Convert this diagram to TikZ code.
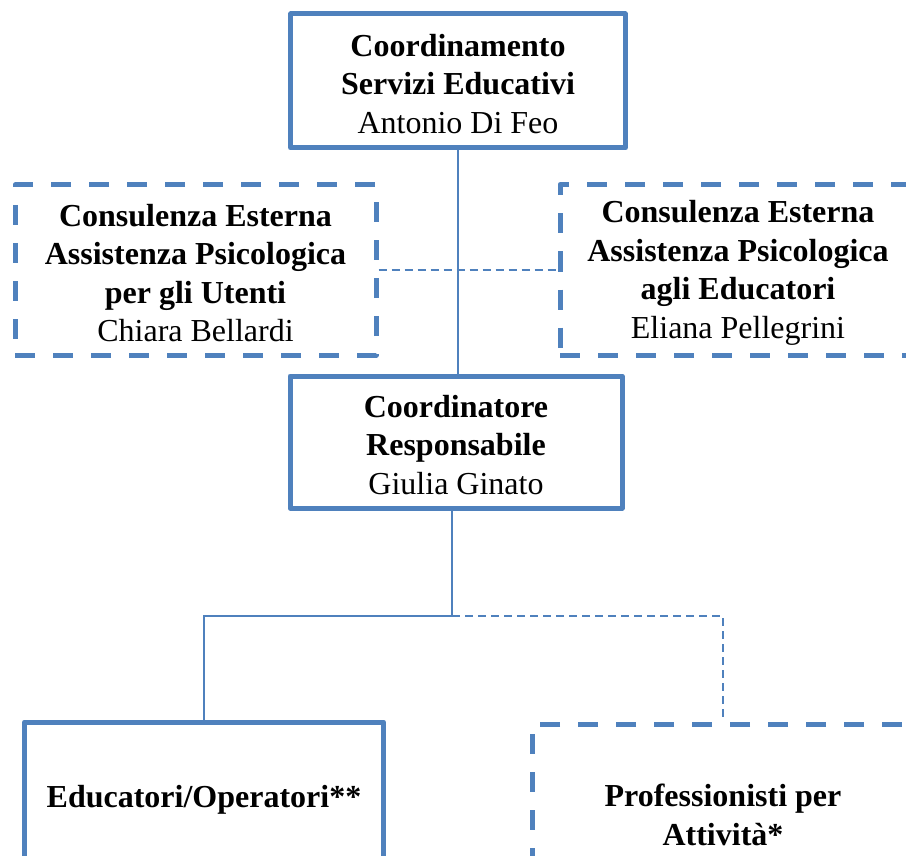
\documentclass[tikz,border=0pt]{standalone}
\usepackage{fontspec}
\setmainfont{Liberation Serif}
\definecolor{obox}{HTML}{4F81BD}
\begin{document}
\begin{tikzpicture}[x=1pt,y=-1pt,
  orgbox/.style={draw=obox,line width=5pt,line join=round,inner sep=0pt},
  extbox/.style={orgbox,dash pattern=on 20pt off 18pt},
  txt/.style={align=center,font=\fontsize{32}{38.5}\selectfont,text=black,inner sep=0pt,yshift=-3pt},
  link/.style={draw=obox,line width=2pt},
  dlink/.style={link,dash pattern=on 8pt off 5pt}]
\useasboundingbox (0,0) rectangle (906,856);
\clip (0,0) rectangle (906,856);
\node[orgbox,minimum width=334.5pt,minimum height=134pt,
  label={[txt]center:{\textbf{Coordinamento}\\\textbf{Servizi Educativi}\\Antonio Di Feo}}] (top) at (458,81) {};
\node[extbox,minimum width=361pt,minimum height=170pt,
  label={[txt]center:{\textbf{Consulenza Esterna}\\\textbf{Assistenza Psicologica}\\\textbf{per gli Utenti}\\Chiara Bellardi}}] (left) at (195.5,270) {};
\node[extbox,minimum width=356pt,minimum height=171pt,
  label={[txt]center:{\textbf{Consulenza Esterna}\\\textbf{Assistenza Psicologica}\\\textbf{agli Educatori}\\Eliana Pellegrini}}] (right) at (738,270) {};
\node[orgbox,minimum width=332pt,minimum height=132pt,
  label={[txt]center:{\textbf{Coordinatore}\\\textbf{Responsabile}\\Giulia Ginato}}] (mid) at (456,442) {};
\node[orgbox,minimum width=359pt,minimum height=150pt,
  label={[txt]center:{\textbf{Educatori/Operatori**}}}] (edu) at (204,797) {};
\node[extbox,minimum width=382pt,minimum height=176pt,
  label={[txt]center:{\textbf{Professionisti per}\\\textbf{Attività*}}}] (prof) at (723,812) {};
\coordinate (j) at (452,616);
\draw[link] (top.south) -- (top.south |- mid.north);
\draw[dlink] (left.east) -- (right.west);
\draw[link] (mid.south -| j) -- (j) -| (edu.north);
\draw[dlink] (j) -| (prof.north);
\end{tikzpicture}
\end{document}
